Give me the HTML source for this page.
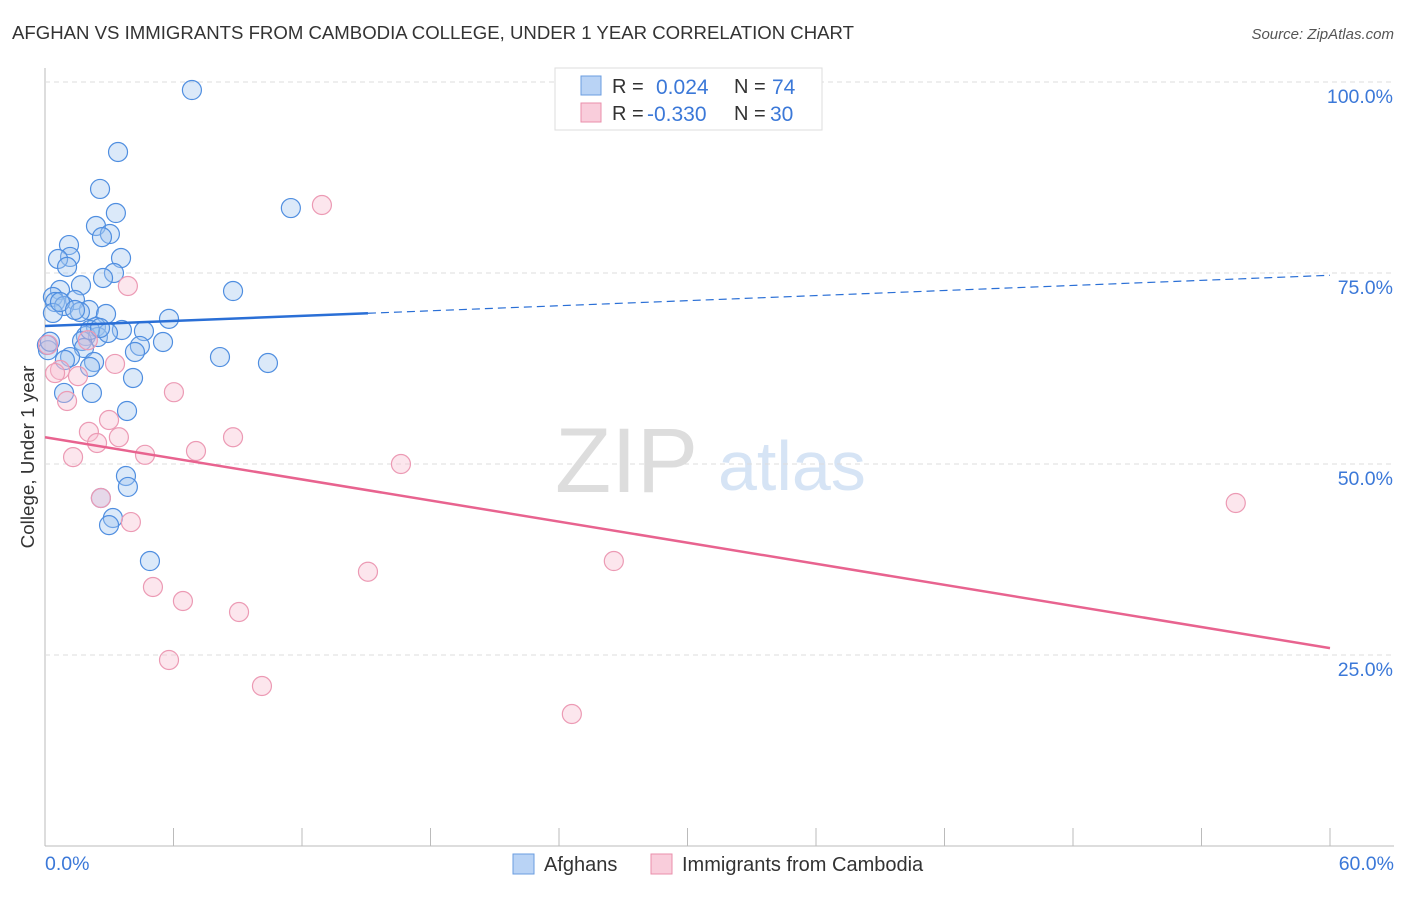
<!DOCTYPE html>
<html><head><meta charset="utf-8"><style>
body{margin:0;background:#fff;font-family:"Liberation Sans",sans-serif}
svg text{font-family:"Liberation Sans",sans-serif}
</style></head><body>
<svg id="c" width="1406" height="892">
<text x="12" y="39" font-size="18.6" fill="#333">AFGHAN VS IMMIGRANTS FROM CAMBODIA COLLEGE, UNDER 1 YEAR CORRELATION CHART</text>
<text x="1394" y="39" font-size="15" fill="#555" text-anchor="end" font-style="italic">Source: ZipAtlas.com</text>
<text x="0" y="0" transform="translate(34,457) rotate(-90)" font-size="18.8" fill="#333" text-anchor="middle">College, Under 1 year</text>
<text x="555" y="492" font-size="92" fill="#ddd" font-family="Liberation Serif">ZIP</text>
<text x="718" y="490" font-size="70" fill="#d6e4f5">atlas</text>
<g id="grid"></g><g id="pts"></g><g id="lines"></g>
<g>
<rect x="555" y="68" width="267" height="62" fill="#fff" stroke="#ddd"/>
<rect x="581" y="76" width="20" height="19" fill="#b9d3f5" stroke="#6a9de0"/>
<rect x="581" y="103" width="20" height="19" fill="#f9cddb" stroke="#ea8fab"/>
<text x="612" y="93" font-size="20" fill="#333">R =</text><text x="656" y="94" font-size="21" fill="#3b78d8">0.024</text>
<text x="734" y="93" font-size="20" fill="#333">N =</text><text x="772" y="94" font-size="21" fill="#3b78d8">74</text>
<text x="612" y="120" font-size="20" fill="#333">R =</text><text x="647" y="121" font-size="21" fill="#3b78d8">-0.330</text>
<text x="734" y="120" font-size="20" fill="#333">N =</text><text x="770" y="121" font-size="21" fill="#3b78d8">30</text>
</g>
<g>
<rect x="513" y="854" width="21" height="20" fill="#b9d3f5" stroke="#6a9de0"/>
<text x="544" y="871" font-size="20" fill="#333">Afghans</text>
<rect x="651" y="854" width="21" height="20" fill="#f9cddb" stroke="#ea8fab"/>
<text x="682" y="871" font-size="20" fill="#333">Immigrants from Cambodia</text>
</g>
</svg>
<script>
const yTicks=[100,75,50,25];
const yTickLabels=["100.0%","75.0%","50.0%","25.0%"];
const xEndLabels=["0.0%","60.0%"];
const blueX=[6.86,3.41,2.57,3.31,11.48,2.38,3.03,2.66,1.12,1.17,0.61,3.55,1.03,3.22,2.71,1.68,8.78,0.70,0.37,1.40,0.47,0.89,2.05,2.85,1.63,5.79,0.37,2.38,3.59,4.62,1.91,2.47,1.73,2.94,5.51,4.43,1.82,4.2,8.17,0.09,1.17,0.93,2.29,10.41,2.1,4.11,0.89,2.19,3.83,3.78,3.87,2.61,3.17,2.99,4.9,0.14,0.23,0.7,1.4,2.1,2.57];
const blueY=[98.95,90.84,86.0,82.85,83.5,81.15,80.1,79.7,78.66,77.1,76.83,76.96,75.8,75.0,74.35,73.4,72.64,72.77,71.86,71.47,71.2,70.68,70.16,69.63,69.9,69.0,69.77,67.93,67.54,67.4,66.75,66.62,66.1,67.15,65.97,65.45,65.18,64.66,64.0,65.58,64.0,63.61,63.35,63.22,62.7,61.26,59.3,59.3,56.94,48.43,47.0,45.55,42.93,42.0,37.3,64.9,66.0,71.2,70.16,67.54,67.8];
const pinkX=[12.93,3.87,3.27,6.02,0.7,0.47,1.54,1.03,2.99,2.05,3.45,8.78,2.43,7.05,4.67,1.31,16.62,55.6,2.61,4.01,26.56,15.08,5.04,6.44,9.06,5.79,10.13,24.6,0.14,2.0];
const pinkY=[83.9,73.3,63.1,59.4,62.3,61.9,61.5,58.25,55.76,54.2,53.5,53.5,52.75,51.7,51.2,50.9,50.0,44.9,45.55,42.4,37.3,35.9,33.9,32.07,30.63,24.35,20.94,17.28,65.6,66.2];
const blueTrend=[68.06,74.7], blueSolidEnd=15.08;
const pinkTrend=[53.5,25.9];
const X=v=>45+v/60*1285, Y=v=>846-v/100*764;
const NS="http://www.w3.org/2000/svg";
function mk(tag,at,parent){const e=document.createElementNS(NS,tag);for(const k in at)e.setAttribute(k,at[k]);document.getElementById(parent).appendChild(e);return e;}
const ax=mk('line',{x1:45,y1:68,x2:45,y2:846,stroke:'#bbb'},'grid');


const bx=mk('line',{x1:45,y1:846,x2:1394,y2:846,stroke:'#bbb'},'grid');


for(let i=1;i<=10;i++){const t=mk('line',{x1:X(i*6),y1:828,x2:X(i*6),y2:846,stroke:'#bbb'},'grid');

}
yTicks.forEach((v,i)=>{const g=mk('line',{x1:45,y1:Y(v),x2:1394,y2:Y(v),stroke:'#ddd','stroke-dasharray':'5,4'},'grid');


const t=mk('text',{x:1393,y:Y(v)+21,'font-size':19.5,fill:'#3b78d8','text-anchor':'end'},'grid');t.textContent=yTickLabels[i];

});
[[0,'start',45],[60,'end',1394]].forEach((d,i)=>{const t=mk('text',{x:d[2],y:870,'font-size':19.5,fill:'#3b78d8','text-anchor':d[1]},'grid');t.textContent=xEndLabels[i];

});
blueX.forEach((x,i)=>{const c=mk('circle',{cx:X(x),cy:Y(blueY[i]),r:9.5,fill:'rgba(160,196,240,0.38)',stroke:'#4f8ee0','stroke-width':1.2},'pts');

});
pinkX.forEach((x,i)=>{const c=mk('circle',{cx:X(x),cy:Y(pinkY[i]),r:9.5,fill:'rgba(248,190,208,0.38)',stroke:'#ec9ab4','stroke-width':1.2},'pts');

});
const by=x=>blueTrend[0]+(blueTrend[1]-blueTrend[0])*x/60;
const l1=mk('line',{x1:X(0),y1:Y(by(0)),x2:X(blueSolidEnd),y2:Y(by(blueSolidEnd)),stroke:'#2a6fd6','stroke-width':2.5},'lines');


const l2=mk('line',{x1:X(blueSolidEnd),y1:Y(by(blueSolidEnd)),x2:X(60),y2:Y(by(60)),stroke:'#2a6fd6','stroke-width':1.2,'stroke-dasharray':'8,5'},'lines');


const l3=mk('line',{x1:X(0),y1:Y(pinkTrend[0]),x2:X(60),y2:Y(pinkTrend[1]),stroke:'#e8638f','stroke-width':2.5},'lines');


</script>
</body></html>
